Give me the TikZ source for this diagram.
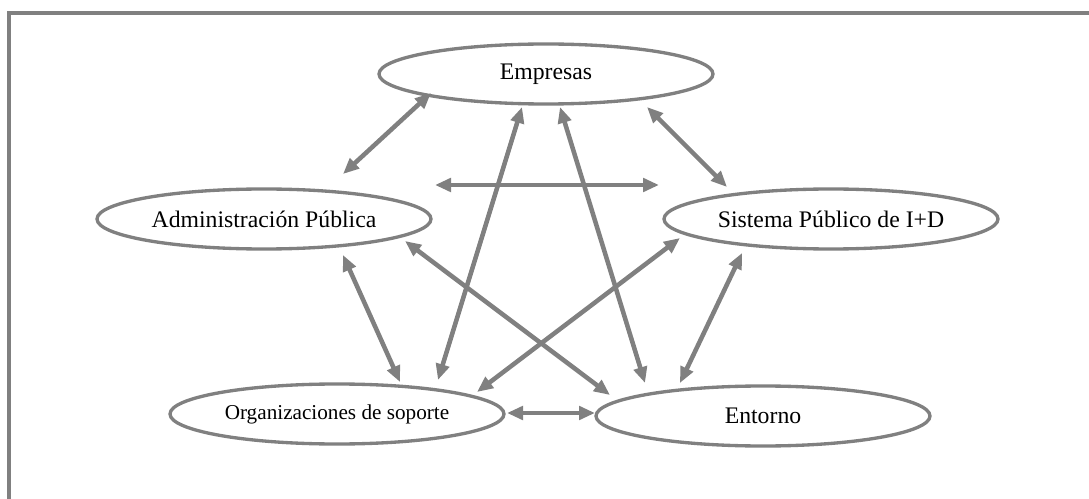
\documentclass[tikz,border=0pt]{standalone}
\usepackage{fontspec}
\setmainfont{Liberation Serif}
\usetikzlibrary{shapes.geometric,arrows.meta,calc}
\definecolor{gr}{RGB}{128,128,128}
\tikzset{
  ell/.style={ellipse, draw=gr, line width=2.5pt, minimum width=250.5pt, minimum height=45pt, inner sep=0pt, font=\fontsize{17.8}{20}\selectfont},
  arr/.style={draw=gr, line width=3.4pt, {Triangle[length=12pt,width=10pt]}-{Triangle[length=12pt,width=10pt]}}
}
\begin{document}
\begin{tikzpicture}[x=0.75pt,y=-0.75pt]
\useasboundingbox (0,0) rectangle (1089,499);
\begin{scope}
\clip (0,0) rectangle (1089,499);
\draw[gr, line width=2.6pt] (1100,13) -- (9,13) -- (9,510);
\end{scope}
\node[ell] (E) at (546,74) {Empresas};
\node[ell] (A) at (264,219) {Administración Pública};
\node[ell] (S) at (831,219) {Sistema Público de I+D};
\node[ell, font=\fontsize{15.9}{18}\selectfont] (O) at (337,414) {Organizaciones de soporte};
\node[ell] (N) at (763,416) {Entorno};
\draw[arr] ($(E)+(-115,19)$) -- ($(A)+(79,-45)$);
\draw[arr] ($(E)+(101,33)$) -- ($(S)+(-104,-32)$);
\draw[arr] ($(A)+(171,-34)$) -- ($(S)+(-172,-34)$);
\draw[arr] ($(E)+(-24,33)$) -- ($(O)+(101,-34)$);
\draw[arr] ($(E)+(14,33)$) -- ($(N)+(-118,-33)$);
\draw[arr] ($(A)+(79,36)$) -- ($(O)+(63,-32)$);
\draw[arr] ($(A)+(141,22)$) -- ($(N)+(-153,-21)$);
\draw[arr] ($(S)+(-151,19)$) -- ($(O)+(140,-22)$);
\draw[arr] ($(S)+(-89,34)$) -- ($(N)+(-83,-33)$);
\draw[arr] ($(O)+(170,-1)$) -- ($(N)+(-168,-3)$);
\end{tikzpicture}
\end{document}
